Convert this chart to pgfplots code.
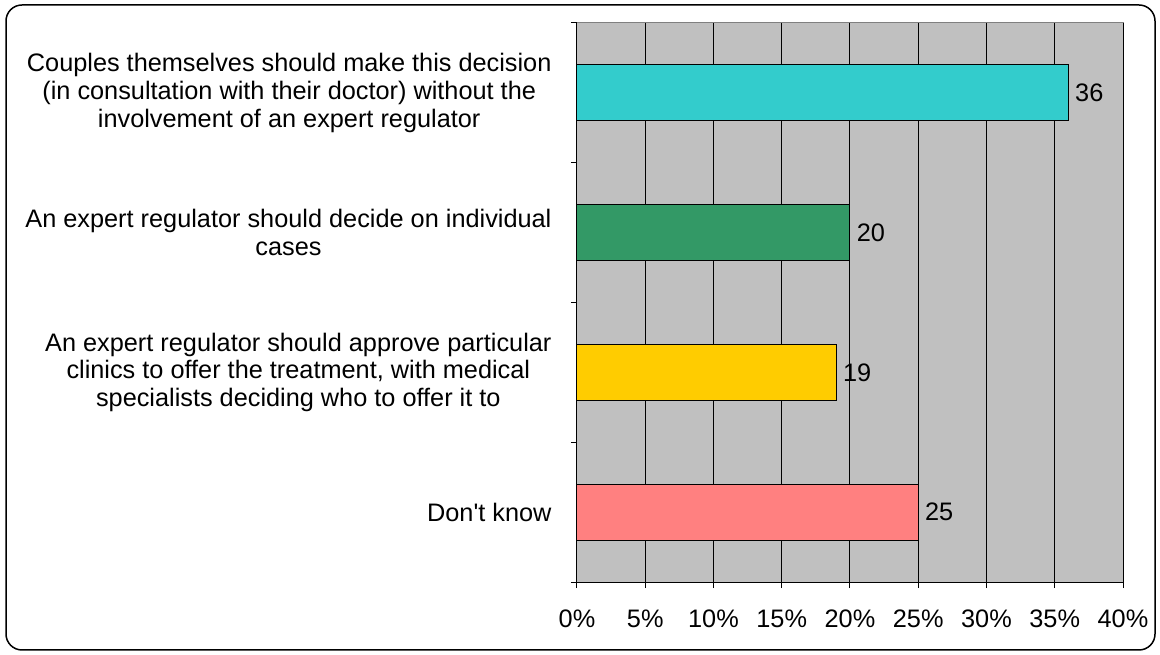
\documentclass[border=0pt]{standalone}
\usepackage{fontspec}
\setmainfont{Liberation Sans}
\usepackage{pgfplots}
\pgfplotsset{compat=1.18}
\definecolor{bgray}{HTML}{C0C0C0}
\definecolor{cyanbar}{HTML}{33CCCC}
\definecolor{greenbar}{HTML}{339966}
\definecolor{yellowbar}{HTML}{FFCC00}
\definecolor{pinkbar}{HTML}{FF8080}
\newcommand{\cf}{\fontsize{25.3}{27.8}\selectfont}
\begin{document}
\begin{tikzpicture}
\useasboundingbox (0,0) rectangle (1160pt,655pt);
\draw[line width=1.5pt, rounded corners=16pt] (6pt,5pt) rectangle (1155pt,650pt);
\begin{axis}[
  at={(577pt,73pt)}, anchor=south west,
  width=546pt, height=559pt, scale only axis,
  xbar, bar shift=0pt, bar width=0.4,
  xmin=0, xmax=40, ymin=-0.5, ymax=3.5, y dir=reverse,
  axis x line*=bottom, axis y line*=left,
  axis line style={black, line width=1pt, -},
  axis background/.style={fill=bgray, draw=gray, line width=1pt},
  xtick={0,5,...,40}, minor xtick={0,5,...,40},
  ytick={0,1,2,3}, minor ytick={-0.5,0.5,1.5,2.5,3.5},
  major tick length=0pt, minor tick length=6pt,
  tick align=outside,
  every tick/.style={black, line width=1pt},
  xmajorgrids, major grid style={black, line width=1pt},
  /pgf/number format/assume math mode=true,
  xticklabel={\pgfmathprintnumber{\tick}\%},
  xticklabel style={font=\cf, yshift=-24pt},
  yticklabel style={font=\cf, align=center, xshift=-22pt},
  yticklabels={
    {Couples themselves should make this decision\\(in consultation with their doctor) without the\\involvement of an expert regulator},
    {An expert regulator should decide on individual\\cases},
    {An expert regulator should approve particular\\clinics to offer the treatment, with medical\\specialists deciding who to offer it to},
    {Don\textquotesingle t know}},
  nodes near coords={\pgfmathprintnumber{\pgfplotspointmeta}},
  point meta=x,
  every node near coord/.append style={font=\cf, black, xshift=3pt},
]
\addplot[fill=cyanbar, draw=black, line width=1pt] coordinates {(36,0)};
\addplot[fill=greenbar, draw=black, line width=1pt] coordinates {(20,1)};
\addplot[fill=yellowbar, draw=black, line width=1pt] coordinates {(19,2)};
\addplot[fill=pinkbar, draw=black, line width=1pt] coordinates {(25,3)};
\end{axis}
\end{tikzpicture}
\end{document}
